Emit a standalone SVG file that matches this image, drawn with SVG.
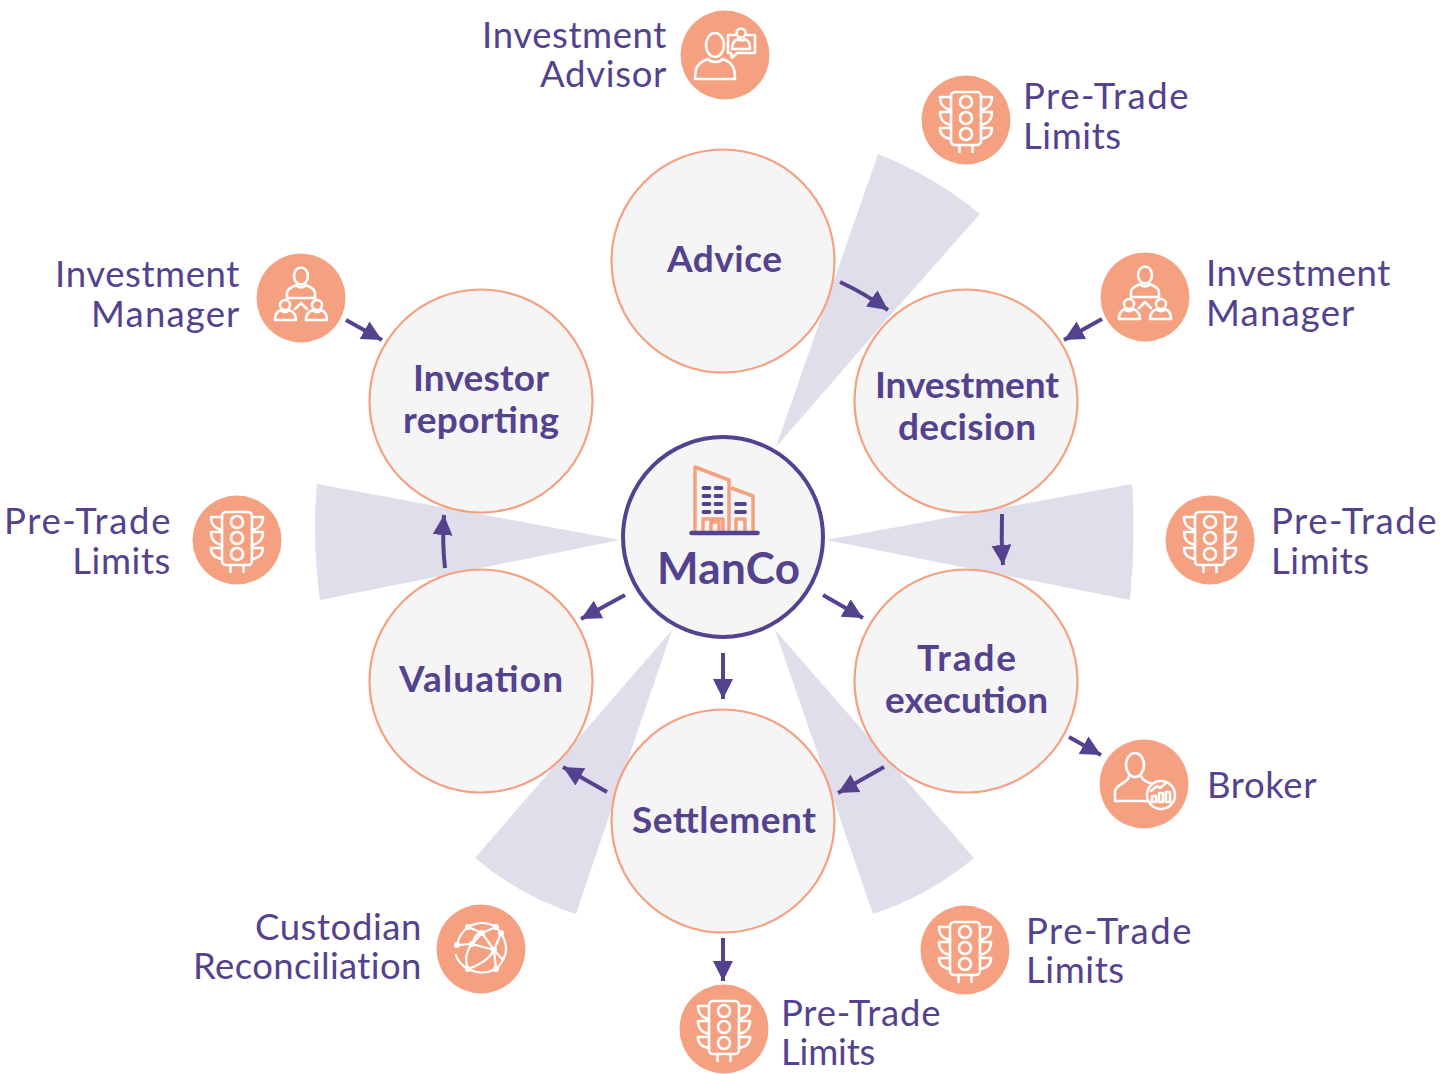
<svg xmlns="http://www.w3.org/2000/svg" width="1445" height="1074" viewBox="0 0 1445 1074">
<style>
text{font-family:"Lato","Noto Sans",sans-serif;fill:#54428e}
.l{font-size:36.5px;font-weight:400;letter-spacing:.6px}
.b{font-size:37px;font-weight:700;text-anchor:middle}
.e{text-anchor:end}
.n{fill:#f5f5f6;stroke:#f4a081;stroke-width:2.2}
.w{fill:#e1deec}
.i{fill:#f4a081}
.g{fill:none;stroke:#fff;stroke-width:2.6;stroke-linejoin:round;stroke-linecap:round}
.c{fill:none;stroke:#54428e;stroke-width:4;marker-end:url(#a)}
.d{fill:#fff;stroke:none}
</style>
<defs>
<marker id="a" markerUnits="userSpaceOnUse" markerWidth="24" markerHeight="24" refX="20" refY="10" orient="auto"><path d="M0 0L20 10L0 20Z" fill="#54428e"/></marker>
<g id="tl"><circle class="i" r="44.5"/><g class="g"><rect x="-15" y="-28" width="30" height="53" rx="4"/><circle cy="-18" r="6"/><circle cy="-2" r="6"/><circle cy="14" r="6"/><path d="M-15-23H-26C-26-16-22-11-15-10M15-23H26C26-16 22-11 15-10M-15-8H-26C-26-1-22 4-15 5M15-8H26C26-1 22 4 15 5M-15 8H-26C-26 14-22 18-15 19M15 8H26C26 14 22 18 15 19M-6.500 25V32M6.500 25V32"/></g></g>
<g id="im"><circle class="i" r="44.5"/><g class="g"><ellipse cy="-22" rx="7" ry="8.500"/><path d="M-14 0V-5C-14-10-8-11-5-13C-3-10 3-10 5-13C8-11 14-10 14-5V0ZM-6 11L0 5L6 11"/><circle cx="-16" cy="7" r="5"/><path d="M-26 22C-26 15-23 13-20 12C-18 15-14 15-12 12C-9 13-5 15-5 22Z"/><circle cx="16" cy="7" r="5"/><path d="M5 22C5 15 9 13 12 12C14 15 18 15 20 12C23 13 26 15 26 22Z"/></g></g>
</defs>
<g id="wedges">
<path class="w" d="M776 447L878 154Q934 176 980 214L895 310Z"/>
<path class="w" d="M826 540L1132 484Q1136 542 1130 600Z"/>
<path class="w" d="M620 540L317 484Q312 542 320 600Z"/>
<path class="w" d="M672 630L475 858Q520 896 576 914Z"/>
<path class="w" d="M775 630L974 858Q928 896 873 914Z"/>
</g>
<g id="connectors">
<path class="c" d="M840 282Q864 293 888 310"/>
<path class="c" d="M1102 319L1064 340"/>
<path class="c" d="M1002 514Q1001 540 1003 565"/>
<path class="c" d="M823 595L863 618"/>
<path class="c" d="M1069 737L1101 755"/>
<path class="c" d="M884 767L838 793"/>
<path class="c" d="M723 653L723 699"/>
<path class="c" d="M723 938L723 981"/>
<path class="c" d="M607 792L563 767"/>
<path class="c" d="M625 595L581 619"/>
<path class="c" d="M445 568Q442 542 444 515"/>
<path class="c" d="M346 320L382 340"/>
</g>
<g id="advice"><circle class="n" cx="723" cy="261" r="111.500"/><text class="b" x="724.500" y="272" textLength="115">Advice</text></g>
<g id="investment-decision"><circle class="n" cx="966" cy="401" r="111.500"/><text class="b" x="967" y="398" textLength="184">Investment</text><text class="b" x="967" y="440" textLength="138">decision</text></g>
<g id="trade-execution"><circle class="n" cx="966" cy="681" r="111.500"/><text class="b" x="966.500" y="671" textLength="99">Trade</text><text class="b" x="966.500" y="713" textLength="163">execution</text></g>
<g id="settlement"><circle class="n" cx="723" cy="821" r="111.500"/><text class="b" x="724" y="833" textLength="184">Settlement</text></g>
<g id="valuation"><circle class="n" cx="481" cy="681" r="111.500"/><text class="b" x="481" y="692" textLength="164">Valuation</text></g>
<g id="investor-reporting"><circle class="n" cx="481" cy="401" r="111.500"/><text class="b" x="481" y="391" textLength="136">Investor</text><text class="b" x="481" y="433" textLength="156">reporting</text></g>
<g id="manco"><circle cx="723" cy="537" r="100" fill="#f5f5f6" stroke="#54428e" stroke-width="4"/>
<path d="M695 531V467L729 480V531M731 488L753 496V531M703 531V519H723V531M711 531V522H719V531M736 531V519H745V531" fill="none" stroke="#f4a081" stroke-width="3.500" stroke-linejoin="round"/>
<path d="M703.500 488H709.500M715.500 488H721.500M703.500 496H709.500M715.500 496H721.500M703.500 504H709.500M715.500 504H721.500M703.500 512H709.500M715.500 512H721.500M736 504H745M736 512H745" stroke="#54428e" stroke-width="3.800" stroke-linecap="round"/>
<path d="M691.500 533H757.500" stroke="#54428e" stroke-width="4.500" stroke-linecap="round"/>
<text x="728.500" y="584" font-size="44" font-weight="700" text-anchor="middle" textLength="143">ManCo</text></g>
<g id="investment-advisor"><circle class="i" cx="725" cy="55" r="44.500"/><g class="g"><ellipse cx="715" cy="45" rx="9" ry="12"/><path d="M695 79C695 68 697 63 708 59C711 63 719 63 723 59C733 63 735 68 735 79ZM728 35V53H731L732 58L737 53H755V35H747M735 35H728M732 49C732 42 735 40 738 39C740 41 743 41 745 39C748 40 750 42 750 49Z"/><circle cx="741" cy="33" r="4.500"/></g><text class="l e" x="667" y="48">Investment</text><text class="l e" x="667" y="87" textLength="127">Advisor</text></g>
<g id="pt-top"><use href="#tl" x="966" y="120"/><text class="l" x="1023" y="109" textLength="166">Pre-Trade</text><text class="l" x="1023" y="149">Limits</text></g>
<g id="im-right"><use href="#im" x="1145" y="297"/><text class="l" x="1206" y="286">Investment</text><text class="l" x="1206" y="326" textLength="149">Manager</text></g>
<g id="pt-right"><use href="#tl" x="1210" y="540"/><text class="l" x="1271" y="534" textLength="166">Pre-Trade</text><text class="l" x="1271" y="574">Limits</text></g>
<g id="broker"><circle class="i" cx="1144" cy="784" r="44.500"/><g class="g"><ellipse cx="1135" cy="765" rx="9" ry="12"/><path d="M1129 776C1129 783 1115 784 1115 792V801H1147M1141 776C1142 781 1148 782 1152 784"/><circle cx="1161" cy="795" r="14"/><path d="M1152 802V796H1156V802ZM1159 802V793H1163V802ZM1166 802V792H1170V802ZM1151 791L1157 786L1160 788L1166 783"/></g><text class="l" x="1207" y="798">Broker</text></g>
<g id="pt-lower-right"><use href="#tl" x="965" y="950"/><text class="l" x="1026" y="944" textLength="166">Pre-Trade</text><text class="l" x="1026" y="983">Limits</text></g>
<g id="pt-bottom"><use href="#tl" x="724" y="1029"/><text class="l" x="781" y="1026" textLength="160">Pre-Trade</text><text class="l" x="781" y="1065" textLength="95">Limits</text></g>
<g id="custodian"><circle class="i" cx="481" cy="949" r="44.500"/><g class="g" style="stroke-width:2.200"><path d="M457 945Q459 934 468 927Q482 919 496 927L501 933Q510 948 503 960Q498 968 496 969Q482 976 468 969Q458 963 456 955M457 945L472 944L482 933L468 927M482 933L496 927L501 933L494 950L482 933M472 944L494 950L503 960M472 944Q463 955 468 969M468 969Q488 962 494 950L496 969M472 944Q476 932 482 933M501 933Q498 942 494 950"/></g><g class="d"><circle class="d" cx="468" cy="927" r="3"/><circle class="d" cx="496" cy="927" r="3"/><circle class="d" cx="482" cy="933" r="3"/><circle class="d" cx="501" cy="933" r="3"/><circle class="d" cx="457" cy="945" r="3"/><circle class="d" cx="472" cy="944" r="3"/><circle class="d" cx="494" cy="950" r="3"/><circle class="d" cx="468" cy="969" r="3"/><circle class="d" cx="496" cy="969" r="3"/></g><text class="l e" x="422" y="940">Custodian</text><text class="l e" x="422" y="979" textLength="229">Reconciliation</text></g>
<g id="pt-left"><use href="#tl" x="237" y="540"/><text class="l e" x="171" y="534" textLength="167">Pre-Trade</text><text class="l e" x="171" y="574">Limits</text></g>
<g id="im-left"><use href="#im" x="301" y="298"/><text class="l e" x="240" y="287">Investment</text><text class="l e" x="240" y="327" textLength="149">Manager</text></g>
</svg>
